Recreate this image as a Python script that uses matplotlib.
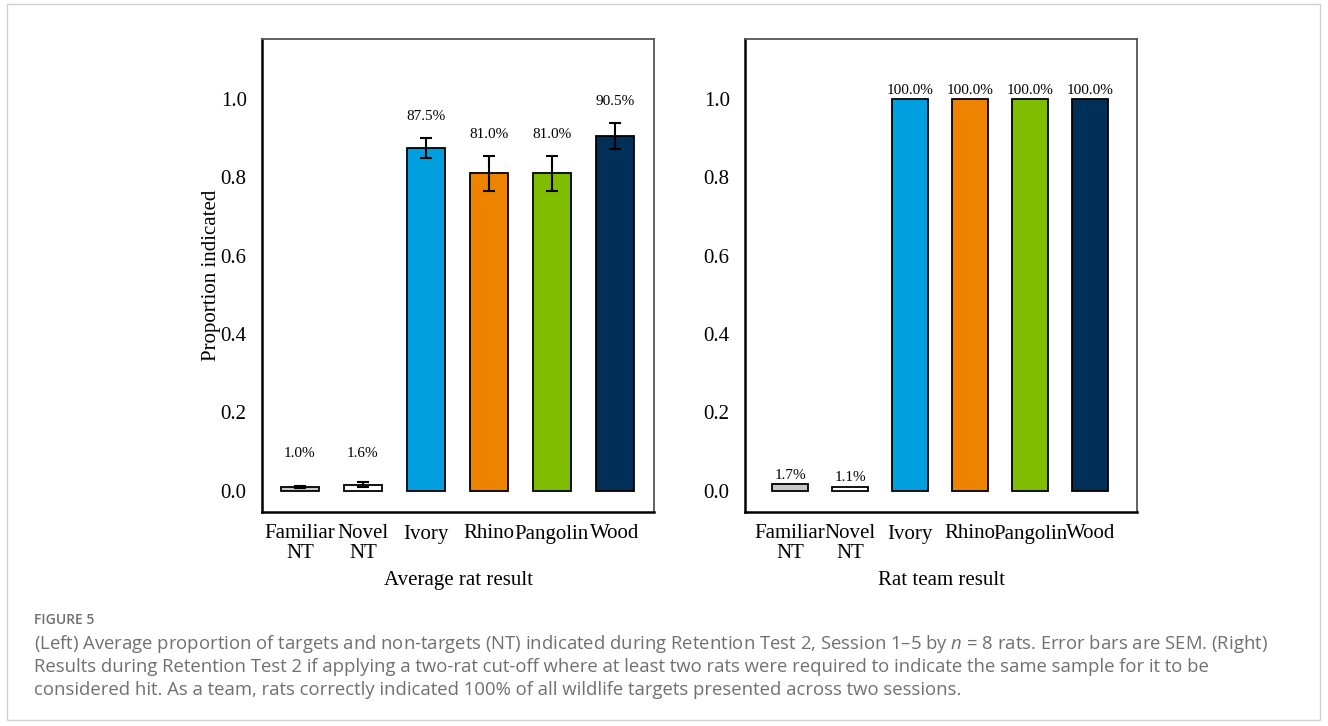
import matplotlib.pyplot as plt
import matplotlib.patches as pat
import numpy as np

plt.rcParams['font.family'] = ['Liberation Serif', 'DejaVu Serif']
plt.rcParams['mathtext.fontset'] = 'custom'
plt.rcParams['mathtext.it'] = 'Open Sans:italic'
plt.rcParams['mathtext.rm'] = 'Open Sans'

# sample groups
categories = ['Familiar\nNT', 'Novel\nNT', 'Ivory', 'Rhino', 'Pangolin', 'Wood']
colors = ['#c8c8c8', '#ffffff', '#009fdf', '#ee8300', '#80bc00', '#003057']

# average rat result (proportion indicated) with SEM
avg_values = [0.010, 0.016, 0.875, 0.810, 0.810, 0.905]
avg_sem = [0.003, 0.007, 0.026, 0.044, 0.044, 0.033]
avg_labels = ['1.0%', '1.6%', '87.5%', '81.0%', '81.0%', '90.5%']

# rat team result (two-rat cut-off)
team_values = [0.017, 0.011, 1.0, 1.0, 1.0, 1.0]
team_labels = ['1.7%', '1.1%', '100.0%', '100.0%', '100.0%', '100.0%']

yticks = [0.0, 0.2, 0.4, 0.6, 0.8, 1.0]

fig = plt.figure(figsize=(13.28, 7.26), dpi=100)

# outer frame
fig.patches.append(pat.Rectangle((7/1328, 6/726), 1313/1328, 716/726,
                                 transform=fig.transFigure, fill=False,
                                 edgecolor='#d0d0d0', linewidth=1.0))


def style_axes(ax, xlim, xlabel):
    ax.set_xlim(*xlim)
    ax.set_ylim(-0.054, 1.153)
    ax.set_yticks(yticks)
    ax.set_yticklabels(['%.1f' % t for t in yticks], fontsize=15)
    ax.set_xticks(range(len(categories)))
    ax.set_xticklabels(categories, fontsize=15, linespacing=1.0)
    ax.tick_params(length=0, pad=11)
    ax.tick_params(axis='x', pad=9)
    for s in ['left', 'bottom']:
        ax.spines[s].set_color('black')
        ax.spines[s].set_linewidth(1.8)
    for s in ['top', 'right']:
        ax.spines[s].set_color('#555555')
        ax.spines[s].set_linewidth(1.3)
    ax.set_xlabel(xlabel, fontsize=15, labelpad=6)


x = np.arange(len(categories))

# left panel
ax1 = fig.add_axes([262/1328, 1 - 512/726, 392/1328, 473/726])
ax1.bar(x, avg_values, width=0.6, color=colors, edgecolor='black', linewidth=1.3)
ax1.errorbar(x, avg_values, yerr=avg_sem, fmt='none', ecolor='black',
             elinewidth=1.5, capsize=4, capthick=1.5)
for xi, v, e, lab in zip(x, avg_values, avg_sem, avg_labels):
    ax1.text(xi, max(v + e + 0.055, 0.095), lab, ha='center', va='center', fontsize=11)
style_axes(ax1, (-0.6, 5.62), 'Average rat result')
ax1.set_ylabel('Proportion indicated', fontsize=15, labelpad=0)

# right panel
ax2 = fig.add_axes([745/1328, 1 - 512/726, 392/1328, 473/726])
ax2.bar(x, team_values, width=0.6, color=colors, edgecolor='black', linewidth=1.3)
for xi, v, lab in zip(x, team_values, team_labels):
    ax2.text(xi, v + 0.006, lab, ha='center', va='bottom', fontsize=11)
style_axes(ax2, (-0.75, 5.78), 'Rat team result')

# caption
cap_color = '#707070'
fig.text(34/1328, 1 - 620/726, 'FIGURE 5', fontsize=10, color=cap_color,
         family='Open Sans', weight='semibold', va='center')
caption = [
    r'(Left) Average proportion of targets and non-targets (NT) indicated during Retention Test 2, Session 1–5 by $n$ = 8 rats. Error bars are SEM. (Right)',
    'Results during Retention Test 2 if applying a two-rat cut-off where at least two rats were required to indicate the same sample for it to be',
    'considered hit. As a team, rats correctly indicated 100% of all wildlife targets presented across two sessions.',
]
for i, line in enumerate(caption):
    fig.text(34/1328, 1 - (644 + 23 * i)/726, line, fontsize=13.3, color=cap_color,
             family='Open Sans', va='center')

fig.savefig('out.png', dpi=100)
